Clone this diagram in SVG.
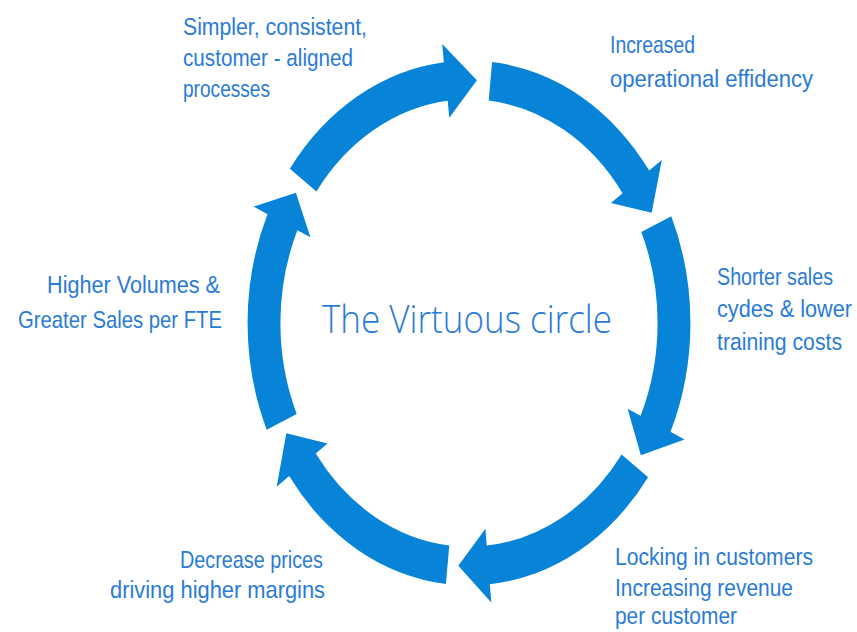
<svg xmlns="http://www.w3.org/2000/svg" width="857" height="632" viewBox="0 0 857 632">
  <style>
    .arrow { fill: #0784d7; }
    .lbl { fill: #2a7bd6; font-family: "Liberation Sans", Arial, sans-serif; font-size: 24px; }
    .title { fill: #2a7bd6; font-family: "Open Sans", "Liberation Sans", sans-serif; font-size: 38px; font-weight: 300; }
    .end { text-anchor: end; }
  </style>
  <rect width="857" height="632" fill="#ffffff"/>

  <!-- six curved arrows on an ellipse centred at (469,323); outer radii 221.4/262.4, inner 188.6/223.6 -->
  <g id="connectors">
    <path id="arrow-1" class="arrow" d="M289.9,168.8 A221.4,262.4 0 0 1 443.9,62.3 L442.2,44.1 L476.9,80.2 L449.3,117.7 L447.7,100.8 A188.6,223.6 0 0 0 316.4,191.6 Z"/>
    <path id="arrow-2" class="arrow" d="M492.1,62.0 A221.4,262.4 0 0 1 649.2,170.6 L661.8,160.0 L651.7,212.7 L610.9,203.0 L622.5,193.2 A188.6,223.6 0 0 0 488.7,100.6 Z"/>
    <path id="arrow-3" class="arrow" d="M671.3,216.3 A221.4,262.4 0 0 1 670.5,431.8 L684.5,439.4 L640.9,455.3 L627.6,408.7 L640.6,415.7 A188.6,223.6 0 0 0 641.3,232.1 Z"/>
    <path id="arrow-4" class="arrow" d="M648.1,477.2 A221.4,262.4 0 0 1 489.8,584.2 L491.3,602.5 L458.3,565.7 L485.4,528.7 L486.7,545.6 A188.6,223.6 0 0 0 621.6,454.4 Z"/>
    <path id="arrow-5" class="arrow" d="M445.9,584.0 A221.4,262.4 0 0 1 289.2,476.1 L276.7,486.8 L286.3,433.3 L327.5,443.5 L315.8,453.5 A188.6,223.6 0 0 0 449.3,545.4 Z"/>
    <path id="arrow-6" class="arrow" d="M266.7,429.7 A221.4,262.4 0 0 1 267.5,214.2 L253.5,206.6 L295.9,192.8 L310.4,237.3 L297.4,230.3 A188.6,223.6 0 0 0 296.7,413.9 Z"/>
  </g>

  <g id="title">
    <text class="title" x="322" y="333" textLength="290" lengthAdjust="spacingAndGlyphs">The Virtuous circle</text>
  </g>

  <!-- labels use a slightly condensed face: horizontal scale 0.85 -->
  <g id="node-processes">
    <text class="lbl" transform="translate(183 35) scale(0.85 1)" textLength="216.5" lengthAdjust="spacingAndGlyphs">Simpler, consistent,</text>
    <text class="lbl" transform="translate(183 66) scale(0.85 1)" textLength="200" lengthAdjust="spacingAndGlyphs">customer - aligned</text>
    <text class="lbl" transform="translate(183 97) scale(0.85 1)" textLength="102.4" lengthAdjust="spacingAndGlyphs">processes</text>
  </g>

  <g id="node-efficiency">
    <text class="lbl" transform="translate(610 53) scale(0.85 1)" textLength="100" lengthAdjust="spacingAndGlyphs">Increased</text>
    <text class="lbl" transform="translate(610 87) scale(0.85 1)" textLength="238.8" lengthAdjust="spacingAndGlyphs">operational effidency</text>
  </g>

  <g id="node-sales-cycles">
    <text class="lbl" transform="translate(717 285) scale(0.85 1)" textLength="136.5" lengthAdjust="spacingAndGlyphs">Shorter sales</text>
    <text class="lbl" transform="translate(717 317) scale(0.85 1)" textLength="158.8" lengthAdjust="spacingAndGlyphs">cydes &amp; lower</text>
    <text class="lbl" transform="translate(717 350) scale(0.85 1)" textLength="147.1" lengthAdjust="spacingAndGlyphs">training costs</text>
  </g>

  <g id="node-locking">
    <text class="lbl" transform="translate(615 565) scale(0.85 1)" textLength="232.9" lengthAdjust="spacingAndGlyphs">Locking in customers</text>
    <text class="lbl" transform="translate(615 596) scale(0.85 1)" textLength="209.4" lengthAdjust="spacingAndGlyphs">Increasing revenue</text>
    <text class="lbl" transform="translate(615 624) scale(0.85 1)" textLength="143.5" lengthAdjust="spacingAndGlyphs">per customer</text>
  </g>

  <g id="node-prices">
    <text class="lbl end" transform="translate(323 568) scale(0.85 1)" textLength="168.2" lengthAdjust="spacingAndGlyphs">Decrease prices</text>
    <text class="lbl end" transform="translate(325 598) scale(0.85 1)" textLength="252.9" lengthAdjust="spacingAndGlyphs">driving higher margins</text>
  </g>

  <g id="node-volumes">
    <text class="lbl end" transform="translate(220 293) scale(0.85 1)" textLength="203.5" lengthAdjust="spacingAndGlyphs">Higher Volumes &amp;</text>
    <text class="lbl end" transform="translate(222 328) scale(0.85 1)" textLength="240" lengthAdjust="spacingAndGlyphs">Greater Sales per FTE</text>
  </g>
</svg>
